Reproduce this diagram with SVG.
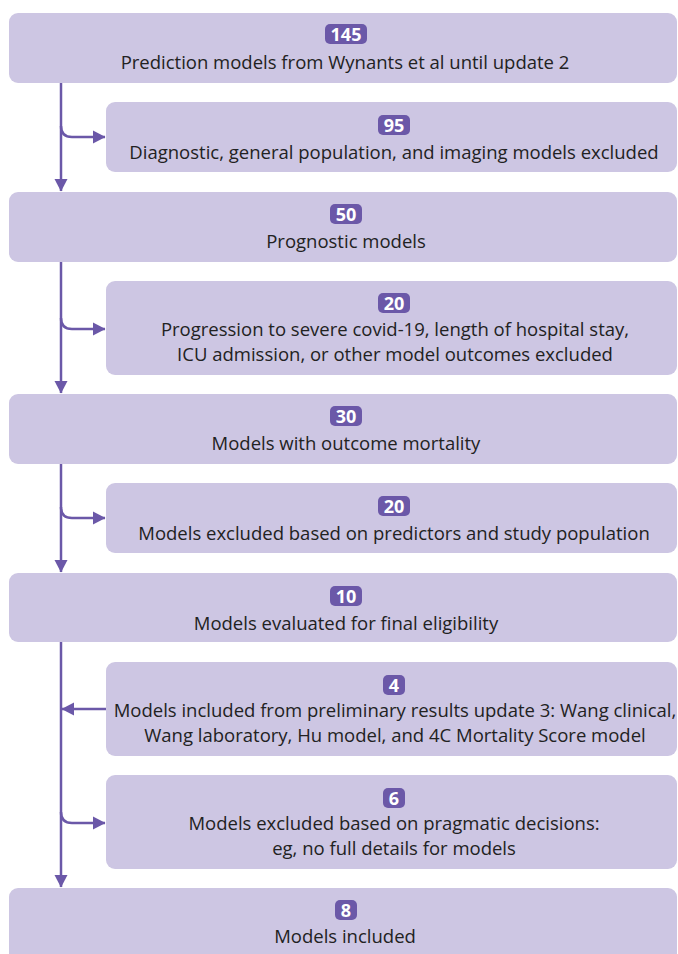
<svg xmlns="http://www.w3.org/2000/svg" width="678" height="954" viewBox="0 0 678 954">
<defs>
<style>
.box{fill:#cdc6e3}
.badge{fill:#6b58a8}
.bt{font-family:"Open Sans","DejaVu Sans",sans-serif;font-size:18px;font-weight:bold;fill:#ffffff;text-anchor:middle}
.t{font-family:"Open Sans","DejaVu Sans",sans-serif;font-size:18.5px;fill:#222222;text-anchor:middle}
.ln{fill:none;stroke:#6b58a8;stroke-width:2.5}
</style>
<marker id="ah" markerUnits="userSpaceOnUse" markerWidth="14" markerHeight="14" viewBox="0 0 14 14" refX="12" refY="7" orient="auto">
<path d="M0,0.5 L12.5,7 L0,13.5 Z" fill="#6b58a8"/>
</marker>
</defs>
<rect width="678" height="954" fill="#ffffff"/>
<g id="connectors">
<path class="ln" d="M61,83 V191" marker-end="url(#ah)"/>
<path class="ln" d="M61,126 Q61,137 72,137 H105" marker-end="url(#ah)"/>
<path class="ln" d="M61,262 V393" marker-end="url(#ah)"/>
<path class="ln" d="M61,318 Q61,329 72,329 H105" marker-end="url(#ah)"/>
<path class="ln" d="M61,464 V572" marker-end="url(#ah)"/>
<path class="ln" d="M61,507 Q61,518 72,518 H105" marker-end="url(#ah)"/>
<path class="ln" d="M61,642 V887" marker-end="url(#ah)"/>
<path class="ln" d="M106,709 H62" marker-end="url(#ah)"/>
<path class="ln" d="M61,812 Q61,823 72,823 H105" marker-end="url(#ah)"/>
</g>
<g id="n145">
<rect class="box" x="9" y="13" width="668" height="70" rx="9"/>
<rect class="badge" x="325" y="24" width="42" height="20" rx="5"/>
<text class="bt" x="346" y="40.5">145</text>
<text class="t" x="345" y="69">Prediction models from Wynants et al until update 2</text>
</g>
<g id="n95">
<rect class="box" x="106" y="102" width="571" height="70" rx="9"/>
<rect class="badge" x="378" y="115" width="32" height="20" rx="5"/>
<text class="bt" x="394" y="131.5">95</text>
<text class="t" x="394" y="159">Diagnostic, general population, and imaging models excluded</text>
</g>
<g id="n50">
<rect class="box" x="9" y="192" width="668" height="70" rx="9"/>
<rect class="badge" x="330" y="204" width="32" height="20" rx="5"/>
<text class="bt" x="346" y="220.5">50</text>
<text class="t" x="346" y="248">Prognostic models</text>
</g>
<g id="n20a">
<rect class="box" x="106" y="281" width="571" height="94" rx="9"/>
<rect class="badge" x="378" y="293" width="32" height="20" rx="5"/>
<text class="bt" x="394" y="309.5">20</text>
<text class="t" x="395" y="336">Progression to severe covid-19, length of hospital stay,</text>
<text class="t" x="395" y="361">ICU admission, or other model outcomes excluded</text>
</g>
<g id="n30">
<rect class="box" x="9" y="394" width="668" height="70" rx="9"/>
<rect class="badge" x="330" y="406" width="32" height="20" rx="5"/>
<text class="bt" x="346" y="422.5">30</text>
<text class="t" x="346" y="450">Models with outcome mortality</text>
</g>
<g id="n20b">
<rect class="box" x="106" y="483" width="571" height="70" rx="9"/>
<rect class="badge" x="378" y="496" width="32" height="20" rx="5"/>
<text class="bt" x="394" y="512.5">20</text>
<text class="t" x="394" y="540">Models excluded based on predictors and study population</text>
</g>
<g id="n10">
<rect class="box" x="9" y="573" width="668" height="69" rx="9"/>
<rect class="badge" x="330" y="586" width="32" height="20" rx="5"/>
<text class="bt" x="346" y="602.5">10</text>
<text class="t" x="346" y="630">Models evaluated for final eligibility</text>
</g>
<g id="n4">
<rect class="box" x="106" y="662" width="571" height="94" rx="9"/>
<rect class="badge" x="383" y="675" width="22" height="20" rx="5"/>
<text class="bt" x="394" y="691.5">4</text>
<text class="t" x="395" y="717">Models included from preliminary results update 3: Wang clinical,</text>
<text class="t" x="395" y="742">Wang laboratory, Hu model, and 4C Mortality Score model</text>
</g>
<g id="n6">
<rect class="box" x="106" y="775" width="571" height="94" rx="9"/>
<rect class="badge" x="383" y="788" width="22" height="20" rx="5"/>
<text class="bt" x="394" y="804.5">6</text>
<text class="t" x="394" y="830">Models excluded based on pragmatic decisions:</text>
<text class="t" x="394" y="855">eg, no full details for models</text>
</g>
<g id="n8">
<rect class="box" x="9" y="888" width="668" height="80" rx="9"/>
<rect class="badge" x="335" y="900" width="22" height="20" rx="5"/>
<text class="bt" x="346" y="916.5">8</text>
<text class="t" x="345" y="943">Models included</text>
</g>
</svg>
